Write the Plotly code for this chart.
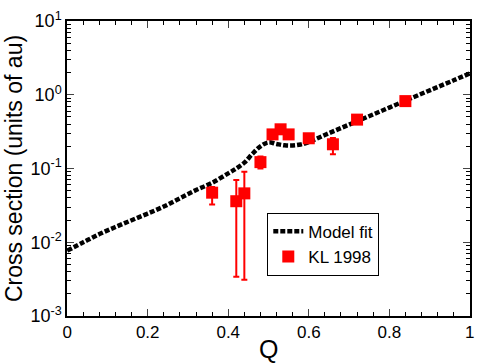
import plotly.graph_objects as go

# -----------------------------------------------------
# Data
# -----------------------------------------------------

# model fit curve
q_fit = [0.00, 0.04, 0.08, 0.12, 0.16, 0.20, 0.24, 0.28, 0.32, 0.36,
         0.40, 0.42, 0.44, 0.46, 0.48, 0.50, 0.52, 0.54, 0.56, 0.58,
         0.60, 0.64, 0.68, 0.72, 0.76, 0.80, 0.84, 0.88, 0.92, 0.96, 1.00]
sigma_fit = [0.0077, 0.0100, 0.0129, 0.0161, 0.0199, 0.0245, 0.0305, 0.0395, 0.0510, 0.0640,
             0.0860, 0.100, 0.120, 0.158, 0.200, 0.226, 0.215, 0.206, 0.205, 0.212,
             0.228, 0.285, 0.353, 0.437, 0.541, 0.670, 0.830, 1.03, 1.27, 1.57, 1.95]

# KL 1998 measurements
q_kl = [0.36, 0.42, 0.44, 0.48, 0.51, 0.53, 0.55, 0.60, 0.66, 0.72, 0.84]
sigma_kl = [0.047, 0.036, 0.046, 0.122, 0.29, 0.34, 0.29, 0.257, 0.213, 0.46, 0.82]
kl_top = [0.056, 0.070, 0.090, 0.145, 0.32, 0.37, 0.32, 0.28, 0.26, 0.50, 0.88]
kl_bottom = [0.0325, 0.0034, 0.0031, 0.100, 0.26, 0.31, 0.26, 0.235, 0.156, 0.42, 0.76]

# axis ticks
x_ticks = [0, 0.2, 0.4, 0.6, 0.8, 1]
x_labels = ["0", "0.2", "0.4", "0.6", "0.8", "1"]
y_ticks = [1e-3, 1e-2, 1e-1, 1e0, 1e1]
y_labels = ["10<sup>-3</sup>", "10<sup>-2</sup>", "10<sup>-1</sup>",
            "10<sup>0</sup>", "10<sup>1</sup>"]

err_plus = [t - v for t, v in zip(kl_top, sigma_kl)]
err_minus = [v - b for v, b in zip(sigma_kl, kl_bottom)]

y_minor = [m * 10 ** e for e in range(-3, 1) for m in range(2, 10)]

FONT = "Liberation Sans, Arial, Helvetica, sans-serif"

# -----------------------------------------------------
# Figure
# -----------------------------------------------------

fig = go.Figure()

fig.add_trace(
    go.Scatter(
        x=q_fit,
        y=sigma_fit,
        mode="lines",
        name="Model fit",
        line=dict(color="black", width=4.5, dash="5px,2px", shape="spline"),
    )
)

fig.add_trace(
    go.Scatter(
        x=q_kl,
        y=sigma_kl,
        mode="markers",
        name="KL 1998",
        marker=dict(symbol="square", size=12, color="#ff0000"),
        error_y=dict(
            type="data",
            symmetric=False,
            array=err_plus,
            arrayminus=err_minus,
            color="#ff0000",
            thickness=2,
            width=3,
        ),
    )
)

fig.update_layout(
    width=484,
    height=364,
    paper_bgcolor="white",
    plot_bgcolor="white",
    font=dict(family=FONT, color="black", size=16),
    margin=dict(l=67, r=9, t=17, b=48),
    showlegend=True,
    legend=dict(
        x=0.497,
        y=0.35,
        xanchor="left",
        yanchor="top",
        bgcolor="white",
        bordercolor="black",
        borderwidth=1,
        font=dict(size=17),
        tracegroupgap=0,
    ),
    annotations=[
        dict(
            text="Q",
            x=0.5,
            y=-0.113,
            xref="paper",
            yref="paper",
            xanchor="center",
            yanchor="middle",
            showarrow=False,
            font=dict(size=25),
        )
    ],
)

fig.update_xaxes(
    range=[-0.0005, 1.0005],
    tickvals=x_ticks,
    ticktext=x_labels,
    ticks="inside",
    ticklen=7,
    tickwidth=1,
    showline=True,
    linecolor="black",
    linewidth=1.5,
    mirror="allticks",
    showgrid=False,
    zeroline=False,
    minor=dict(dtick=0.04, ticks="inside", ticklen=4, tickcolor="black", showgrid=False),
    tickfont=dict(size=17),
)

fig.update_yaxes(
    type="log",
    range=[-3, 1],
    tickvals=y_ticks,
    ticktext=y_labels,
    ticks="inside",
    ticklen=7,
    tickwidth=1,
    showline=True,
    linecolor="black",
    linewidth=1.5,
    mirror="allticks",
    showgrid=False,
    zeroline=False,
    minor=dict(tickvals=y_minor, ticks="inside", ticklen=4, tickcolor="black", showgrid=False),
    title=dict(text="Cross section (units of au)", font=dict(size=23), standoff=1),
    tickfont=dict(size=18),
)

# page body has a default margin; drop it so the figure sits at the corner
fig.write_html(
    "out.html",
    config={"displayModeBar": False},
    post_script="document.body.style.margin='0';",
)
